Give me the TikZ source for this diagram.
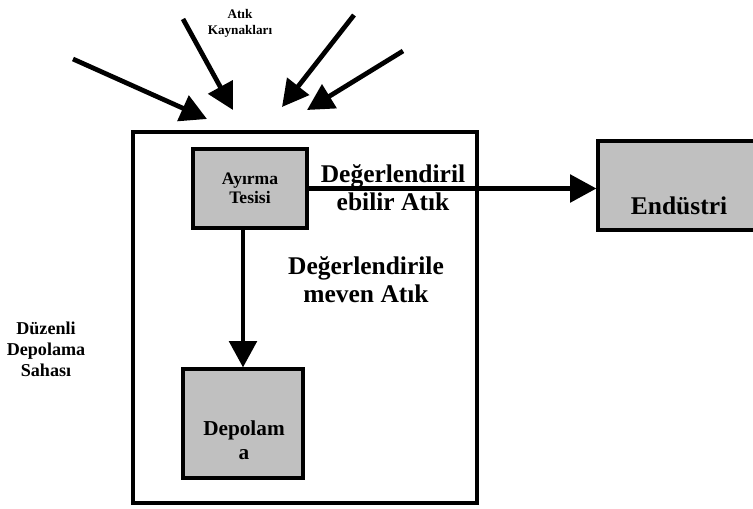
\documentclass[tikz,border=0pt]{standalone}
\usepackage{fontspec}
\usepackage{xcolor}
\setmainfont{Liberation Serif}
\usetikzlibrary{arrows.meta,positioning}
\definecolor{unitgray}{HTML}{C0C0C0}

\begin{document}
\begin{tikzpicture}[
      x=0.02cm,y=-0.02cm,
      >={Triangle[length=15pt,width=15.5pt]},
      unit/.style={draw,line width=1.8pt,fill=unitgray,inner sep=0pt,
                   align=center,font=\bfseries},
      flow/.style={->,line width=2.7pt},
      note/.style={align=center,font=\bfseries}
    ]
    \clip (0,0) rectangle (753,508);
    % site boundary and units
    \node[draw,line width=2pt,minimum width=6.88cm,minimum height=7.42cm]
      (site) at (305,317.5) {};
    \node[unit,minimum width=2.28cm,minimum height=1.58cm,
          font=\bfseries\fontsize{10}{11}\selectfont] (ayirma) at (250,188.5)
      {Ayırma\\Tesisi};
    \node[unit,minimum width=2.4cm,minimum height=2.18cm] (depolama) at (243,423.5) {};
    \node[note,font=\bfseries\fontsize{12.1}{13.6}\selectfont] (depolamatext)
      at (244,440) {Depolam\\a};
    \node[unit,minimum width=3.34cm,minimum height=1.78cm] (endustri) at (681.5,185.5) {};
    \node[note,font=\bfseries\fontsize{14.5}{16}\selectfont] (endustritext)
      at (679,206) {Endüstri};
    % flows
    \draw[flow] (ayirma.east) -- (ayirma.east -| endustri.west);
    \draw[flow] (ayirma.south -| depolama.north) -- (depolama.north);
    \node[note,font=\bfseries\fontsize{14.5}{16}\selectfont] (valuable) at (393,188)
      {Değerlendiril\\ebilir Atık};
    \node[note,font=\bfseries\fontsize{14.5}{16}\selectfont] (residual) at (366,280)
      {Değerlendirile\\meven Atık};
    \node[note,font=\bfseries\fontsize{10.3}{12}\selectfont] (sitename) at (46,349)
      {Düzenli\\Depolama\\Sahası};
    % incoming waste
    \node[note,font=\bfseries\fontsize{7.5}{9}\selectfont] (sources) at (240,23)
      {Atık\\Kaynakları};
    \coordinate (src1) at (73,59);   \coordinate (tip1) at (207,119);
    \coordinate (src2) at (183,19);  \coordinate (tip2) at (233,110);
    \coordinate (src3) at (354,15);  \coordinate (tip3) at (282,107);
    \coordinate (src4) at (403,51);  \coordinate (tip4) at (307,110);
    \foreach \i in {1,...,4}
      \draw[flow] (src\i) -- (tip\i);
  \end{tikzpicture}
\end{document}
